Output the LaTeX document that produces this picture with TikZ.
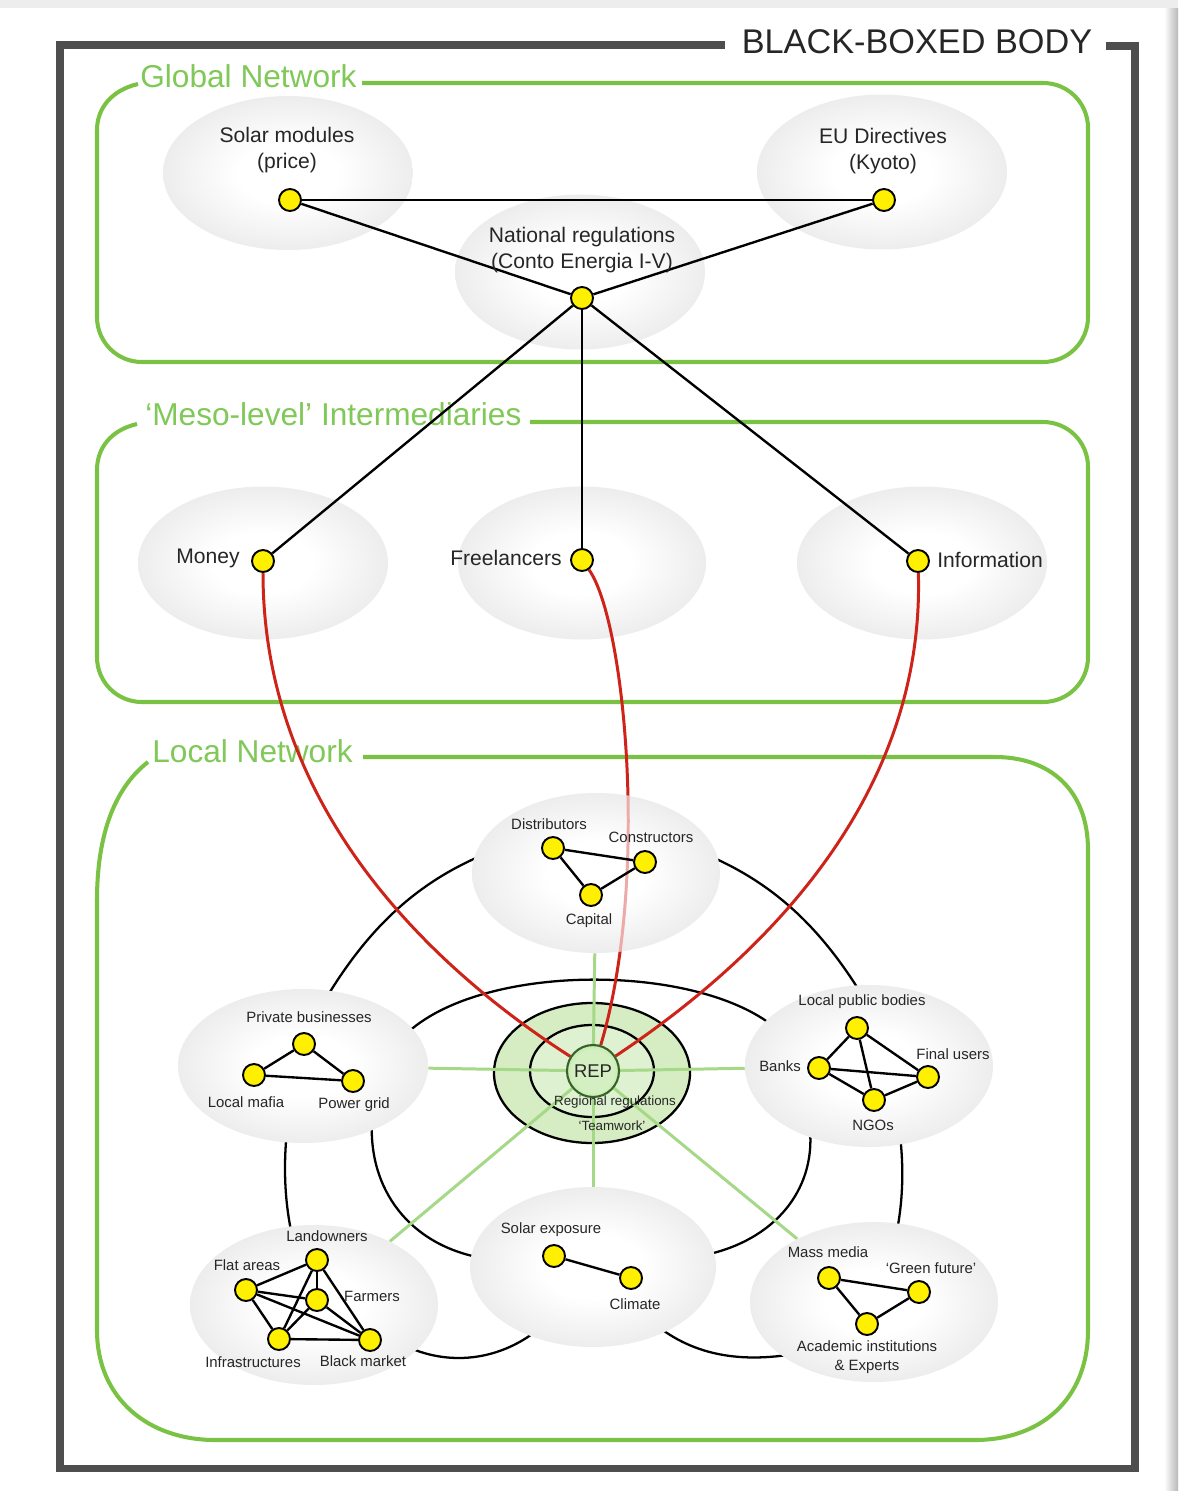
\documentclass[tikz,border=0pt]{standalone}
\usepackage{fontspec}
\setmainfont{Liberation Sans}
\usetikzlibrary{shapes.geometric}
\definecolor{gbox}{RGB}{122,194,68}
\definecolor{gtitle}{RGB}{128,200,88}
\definecolor{spokec}{RGB}{165,216,135}
\definecolor{ringfill}{RGB}{214,237,196}
\definecolor{ringin}{RGB}{222,241,208}
\definecolor{repin}{RGB}{212,240,194}
\definecolor{repout}{RGB}{128,198,92}
\definecolor{repborder}{RGB}{55,100,38}
\definecolor{redl}{RGB}{205,35,25}
\definecolor{ynode}{RGB}{255,240,0}
\definecolor{framec}{RGB}{78,78,78}
\pgfdeclareradialshading{ellsh}{\pgfpoint{0bp}{0bp}}{color(0bp)=(white); color(10bp)=(white); color(50bp)=(black!19)}
\pgfdeclareradialshading{repsh}{\pgfpoint{0bp}{0bp}}{color(0bp)=(repin); color(20bp)=(repin); color(50bp)=(repout)}
\pgfdeclarelayer{back}
\pgfdeclarelayer{arcs}
\pgfdeclarelayer{rings}
\pgfdeclarelayer{spokes}
\pgfdeclarelayer{reds}
\pgfdeclarelayer{ells}
\pgfdeclarelayer{pale}
\pgfdeclarelayer{edges}
\pgfsetlayers{back,arcs,rings,spokes,reds,ells,pale,edges,main}
\tikzset{
 yn/.style={circle, fill=ynode, draw=black, line width=1.1pt, minimum size=0.44cm, inner sep=0pt},
 ge/.style={ellipse, shade, shading=ellsh, draw=none, inner sep=0pt, minimum width=4.96cm, minimum height=3.2cm},
 ll/.style={font=\fontsize{8.5}{10.8}\selectfont, inner sep=0pt, text=black!85, align=center},
 gl/.style={font=\fontsize{12}{14.7}\selectfont, inner sep=0pt, text=black!85, align=center},
 ttl/.style={font=\fontsize{18}{20}\selectfont, text=gtitle, anchor=base west, inner sep=0pt},
 gbx/.style={draw=gbox, line width=2.3pt},
 edg/.style={draw=black, line width=1.35pt},
 ring/.style={draw=black, line width=1.3pt},
 spk/.style={draw=spokec, line width=1.7pt},
 rd/.style={draw=redl, line width=1.7pt},
 framel/.style={draw=framec, line width=4pt, line join=miter},
}
\begin{document}
\begin{tikzpicture}[x=0.02cm,y=-0.02cm]
\useasboundingbox (0,0) rectangle (1178,1491);

% ---------------- background, frame, boxes
\begin{pgfonlayer}{back}
\fill[white] (0,0) rectangle (1178,1491);
\fill[black!7] (0,0) rectangle (1178,8);
\shade[left color=white, right color=black!28] (1164,8) rectangle (1178,1491);
\draw[framel] (725,45) -- (60,45) -- (60,1468) -- (1135,1468) -- (1135,46) -- (1106,46);
\node[font=\fontsize{19.5}{22}\selectfont, text=black!85, anchor=base, inner sep=0pt] (bbb) at (917,53) {BLACK-BOXED BODY};
% Global network box
\draw[gbx] (138,84) .. controls (112,90) and (97,108) .. (97,130) -- (97,317)
  .. controls (97,342) and (117,362) .. (142,362) -- (1043,362)
  .. controls (1068,362) and (1088,342) .. (1088,317) -- (1088,128)
  .. controls (1088,103) and (1068,83) .. (1043,83) -- (362,83);
\node[ttl] (tglob) at (140,87) {Global Network};
% Meso box
\draw[gbx] (137,424) .. controls (111,430) and (97,448) .. (97,470) -- (97,657)
  .. controls (97,682) and (117,702) .. (142,702) -- (1043,702)
  .. controls (1068,702) and (1088,682) .. (1088,657) -- (1088,467)
  .. controls (1088,442) and (1068,422) .. (1043,422) -- (530,422);
\node[ttl] (tmeso) at (145,425) {‘Meso-level’ Intermediaries};
% Local box
\draw[gbx] (148,762) .. controls (112,790) and (97,840) .. (97,900) -- (97,1330)
  .. controls (97,1400) and (150,1440) .. (215,1440) -- (975,1440)
  .. controls (1040,1440) and (1088,1400) .. (1088,1330) -- (1088,850)
  .. controls (1088,790) and (1050,757) .. (995,757) -- (363,757);
\node[ttl] (tloc) at (152,762) {Local Network};
\end{pgfonlayer}

% ---------------- gray ellipses (global and meso under the red lines)
\begin{pgfonlayer}{arcs}
\node[ge, minimum width=5cm, minimum height=3.08cm] (esm) at (288,173) {};
\node[ge, minimum width=5cm, minimum height=3.1cm] (eeu) at (882,172) {};
\node[ge, minimum width=5cm, minimum height=3.1cm] (enat) at (580,272) {};
\node[ge, minimum width=5cm, minimum height=3.06cm] (emon) at (263,563) {};
\node[ge, minimum width=4.96cm, minimum height=3.06cm] (efre) at (582,563) {};
\node[ge, minimum width=5cm, minimum height=3.06cm] (einf) at (922,563) {};
\end{pgfonlayer}
\begin{pgfonlayer}{ells}
\node[ge] (edist) at (596,873) {};
\node[ge, minimum width=5cm, minimum height=3.08cm] (epriv) at (303,1066) {};
\node[ge, minimum height=3.24cm] (eright) at (869,1066) {};
\node[ge] (ebl) at (314,1305) {};
\node[ge, minimum width=4.92cm] (esol) at (593,1267) {};
\node[ge] (ebr) at (874,1302) {};
\end{pgfonlayer}

% ---------------- yellow nodes
\node[yn] (nsm) at (290,200) {};
\node[yn] (neu) at (884,200) {};
\node[yn] (nnat) at (582,298) {};
\node[yn] (nmon) at (263,561) {};
\node[yn] (nfre) at (582,560) {};
\node[yn] (ninf) at (918,561) {};
\node[yn] (ndist) at (553,848) {};
\node[yn] (ncons) at (645,862) {};
\node[yn] (ncap) at (591,895) {};
\node[yn] (npb) at (304,1044) {};
\node[yn] (nmaf) at (254,1075) {};
\node[yn] (npow) at (353,1081) {};
\node[yn] (nlpb) at (857,1028) {};
\node[yn] (nbank) at (819,1068) {};
\node[yn] (nfin) at (928,1077) {};
\node[yn] (nngo) at (874,1100) {};
\node[yn] (nland) at (317,1260) {};
\node[yn] (nflat) at (246,1290) {};
\node[yn] (nfarm) at (317,1300) {};
\node[yn] (ninfra) at (279,1339) {};
\node[yn] (nblack) at (370,1340) {};
\node[yn] (nsol) at (554,1256) {};
\node[yn] (nclim) at (631,1278) {};
\node[yn] (nmass) at (829,1278) {};
\node[yn] (ngreen) at (919,1292) {};
\node[yn] (nacad) at (867,1324) {};

% ---------------- REP
\node[circle, shade, shading=repsh, draw=repborder, line width=1.2pt, minimum size=1.04cm, inner sep=0pt,
      font=\fontsize{10.5}{12}\selectfont, text=black!85] (rep) at (593,1071) {REP};

% ---------------- black rings of the local network
\begin{pgfonlayer}{arcs}
\draw[ring] (325,1000) .. controls (370,925) and (420,880) .. (490,852);
\draw[ring] (700,852) .. controls (770,880) and (820,925) .. (865,1000);
\draw[ring] (287,1130) .. controls (283,1170) and (285,1205) .. (293,1240);
\draw[ring] (900,1135) .. controls (904,1170) and (903,1205) .. (895,1240);
\draw[ring] (400,1343) .. controls (440,1365) and (495,1365) .. (540,1328);
\draw[ring] (650,1320) .. controls (690,1355) and (740,1365) .. (805,1352);
\draw[ring] (405,1035) .. controls (480,962) and (700,962) .. (778,1030);
\draw[ring] (372,1120) .. controls (368,1190) and (410,1245) .. (482,1258);
\draw[ring] (810,1130) .. controls (815,1190) and (775,1240) .. (705,1255);
\end{pgfonlayer}

\begin{pgfonlayer}{rings}
\draw[ring, fill=ringfill] (592,1073) ellipse [x radius=98, y radius=70];
\draw[ring, fill=ringin] (592,1071) ellipse [x radius=62, y radius=46];
\end{pgfonlayer}

\begin{pgfonlayer}{spokes}
\draw[spk] (rep) -- (edist);
\draw[spk] (rep) -- (epriv);
\draw[spk] (rep) -- (eright);
\draw[spk] (rep) -- (ebl);
\draw[spk] (rep) -- (esol);
\draw[spk] (rep) -- (ebr);
\end{pgfonlayer}

\begin{pgfonlayer}{reds}
\draw[rd] (nmon) .. controls (263,800) and (420,960) .. (rep);
\draw[rd] (nfre) .. controls (625,620) and (650,880) .. (rep);
\draw[rd] (ninf) .. controls (925,800) and (760,960) .. (rep);
\end{pgfonlayer}

\begin{pgfonlayer}{pale}
\begin{scope}
\clip (596,873) ellipse [x radius=124, y radius=80];
\draw[line width=1.7pt, draw=redl!38] (nfre) .. controls (625,620) and (650,880) .. (rep);
\end{scope}
\end{pgfonlayer}

% ---------------- edges
\begin{pgfonlayer}{edges}
\draw[edg] (nsm) -- (neu);
\draw[edg] (nsm) -- (nnat);
\draw[edg] (neu) -- (nnat);
\draw[edg] (nnat) -- (nmon);
\draw[edg] (nnat) -- (nfre);
\draw[edg] (nnat) -- (ninf);
\draw[edg] (ndist) -- (ncons);
\draw[edg] (ndist) -- (ncap);
\draw[edg] (ncap) -- (ncons);
\draw[edg] (npb) -- (nmaf);
\draw[edg] (npb) -- (npow);
\draw[edg] (nmaf) -- (npow);
\draw[edg] (nlpb) -- (nbank);
\draw[edg] (nlpb) -- (nngo);
\draw[edg] (nlpb) -- (nfin);
\draw[edg] (nbank) -- (nfin);
\draw[edg] (nbank) -- (nngo);
\draw[edg] (nngo) -- (nfin);
\draw[edg] (nflat) -- (nland);
\draw[edg] (nflat) -- (nfarm);
\draw[edg] (nflat) -- (ninfra);
\draw[edg] (nflat) -- (nblack);
\draw[edg] (nland) -- (nfarm);
\draw[edg] (nland) -- (ninfra);
\draw[edg] (nland) -- (nblack);
\draw[edg] (nfarm) -- (ninfra);
\draw[edg] (nfarm) -- (nblack);
\draw[edg] (ninfra) -- (nblack);
\draw[edg] (nsol) -- (nclim);
\draw[edg] (nmass) -- (ngreen);
\draw[edg] (nmass) -- (nacad);
\draw[edg] (nacad) -- (ngreen);
\end{pgfonlayer}

% ---------------- labels
\node[gl] (lsm) at (287,150) {Solar modules\\(price)};
\node[gl] (leu) at (883,151) {EU Directives\\(Kyoto)};
\node[gl] (lnat) at (582,250) {National regulations\\(Conto Energia I-V)};
\node[gl, anchor=east] (lmon) at (240,558) {Money};
\node[gl, anchor=east] (lfre) at (562,558) {Freelancers};
\node[gl, anchor=west] (linf) at (937,560) {Information};

\node[ll] (ldist) at (549,824) {Distributors};
\node[ll] (lcons) at (651,837) {Constructors};
\node[ll] (lcap) at (589,921) {Capital};
\node[ll] (lpb) at (309,1017) {Private businesses};
\node[ll] (lmaf) at (246,1102) {Local mafia};
\node[ll] (lpow) at (354,1105) {Power grid};
\node[ll] (llpb) at (862,1002) {Local public bodies};
\node[ll] (lbank) at (780,1066) {Banks};
\node[ll] (lfin) at (953,1054) {Final users};
\node[ll] (lngo) at (873,1125) {NGOs};
\node[ll] (lland) at (327,1236) {Landowners};
\node[ll] (lflat) at (247,1265) {Flat areas};
\node[ll] (lfarm) at (372,1296) {Farmers};
\node[ll] (linfra) at (253,1362) {Infrastructures};
\node[ll] (lblack) at (363,1361) {Black market};
\node[ll] (lsol) at (551,1230) {Solar exposure};
\node[ll] (lclim) at (635,1304) {Climate};
\node[ll] (lmass) at (828,1252) {Mass media};
\node[ll] (lgreen) at (931,1268) {‘Green future’};
\node[ll] (lacad) at (867,1357) {Academic institutions\\\& Experts};
\node[ll, font=\fontsize{7.6}{9}\selectfont] (lreg) at (615,1102) {Regional regulations};
\node[ll, font=\fontsize{7.6}{9}\selectfont] (lteam) at (612,1126) {‘Teamwork’};
\end{tikzpicture}
\end{document}
